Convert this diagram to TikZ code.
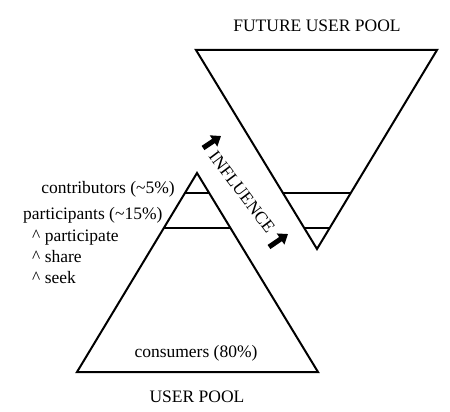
\documentclass[tikz,border=0pt]{standalone}
\usepackage{fontspec}
\setmainfont{Liberation Serif}
\usetikzlibrary{arrows.meta,calc}
\begin{document}
\begin{tikzpicture}[x=1pt,y=-1pt,
  tri/.style={line width=2pt,line join=miter},
  band/.style={line width=2pt},
  lbl/.style={font=\fontsize{17.5}{20}\selectfont,inner sep=0pt},
  bigarrow/.style={line width=5pt,-{Triangle[width=13pt,length=9pt]}}]
\useasboundingbox (0,0) rectangle (450,412);
% bottom triangle (user pool)
\coordinate (bA) at (197,173);
\coordinate (bL) at (77,372);
\coordinate (bR) at (318,372);
\draw[tri] (bA) -- (bL) -- (bR) -- cycle;
\coordinate (b1l) at ($(bA)!0.1005!(bL)$);
\coordinate (b1r) at ($(bA)!0.1005!(bR)$);
\coordinate (b2l) at ($(bA)!0.2764!(bL)$);
\coordinate (b2r) at ($(bA)!0.2764!(bR)$);
\draw[band] (b1l) -- (b1r);
\draw[band] (b2l) -- (b2r);
% top inverted triangle (future user pool)
\coordinate (tA) at (317,249);
\coordinate (tL) at (196,50);
\coordinate (tR) at (437,50);
\draw[tri] (tA) -- (tL) -- (tR) -- cycle;
\coordinate (t1l) at ($(tA)!0.2814!(tL)$);
\coordinate (t1r) at ($(tA)!0.2814!(tR)$);
\coordinate (t2l) at ($(tA)!0.1055!(tL)$);
\coordinate (t2r) at ($(tA)!0.1055!(tR)$);
\draw[band] (t1l) -- (t1r);
\draw[band] (t2l) -- (t2r);
% labels
\node[lbl,anchor=base] (future) at (317,32) {FUTURE USER POOL};
\node[lbl,anchor=base] (userpool) at (197,402) {USER POOL};
\node[lbl,anchor=base] (consumers) at (196,357) {consumers (80\%)};
\node[lbl,anchor=base east] (contrib) at (175,193) {contributors (\textasciitilde5\%)};
\node[lbl,anchor=base west] (partic) at (23,219) {participants (\textasciitilde15\%)};
\node[lbl,anchor=base west] (l1) at (32,241) {\textasciicircum\ participate};
\node[lbl,anchor=base west] (l2) at (32,262) {\textasciicircum\ share};
\node[lbl,anchor=base west] (l3) at (32,283) {\textasciicircum\ seek};
% influence
\node[lbl,rotate=-53] (infl) at (242,192) {INFLUENCE};
\coordinate (a1s) at (203,148);
\coordinate (a1e) at (221,136);
\coordinate (a2s) at (269,247);
\coordinate (a2e) at (288,234);
\draw[bigarrow] (a1s) -- (a1e);
\draw[bigarrow] (a2s) -- (a2e);
\end{tikzpicture}
\end{document}
